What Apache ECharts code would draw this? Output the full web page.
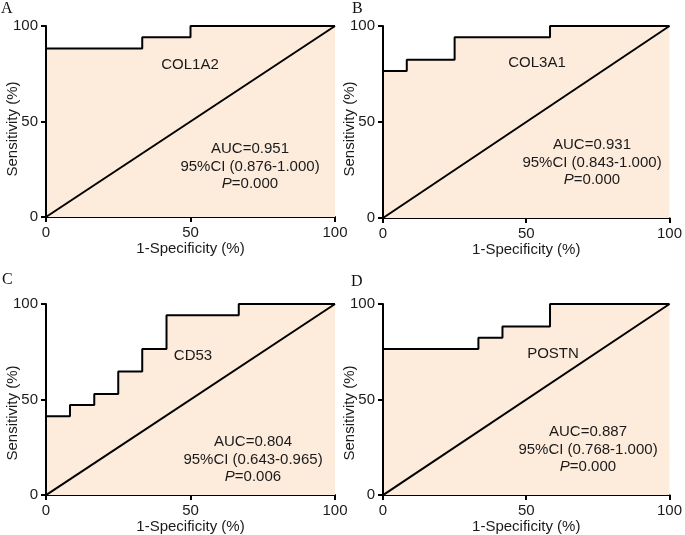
<!DOCTYPE html>
<html>
<head>
<meta charset="utf-8">
<script src="https://cdn.jsdelivr.net/npm/echarts@6/dist/echarts.min.js"></script>
<style>
html,body{margin:0;padding:0;background:#fff;}
#chart{width:685px;height:535px;}
</style>
</head>
<body>
<div id="chart"></div>
<script>
// ROC curve vertices (1-Specificity %, Sensitivity %), step-wise
var fprA = [0, 0, 33.3, 50, 100];
var tprA = [0, 88.2, 94.1, 100, 100];
var fprB = [0, 0, 8.3, 25, 58.3, 100];
var tprB = [0, 76.5, 82.4, 94.1, 100, 100];
var fprC = [0, 0, 8.3, 16.7, 25, 33.3, 41.7, 66.7, 100];
var tprC = [0, 41.2, 47.1, 52.9, 64.7, 76.5, 94.1, 100, 100];
var fprD = [0, 0, 33.3, 41.7, 58.3, 100];
var tprD = [0, 76.5, 82.4, 88.2, 100, 100];
var refX = [0, 100];
var refY = [0, 100];

var panelLetters = ['A', 'B', 'C', 'D'];
var genes = ['COL1A2', 'COL3A1', 'CD53', 'POSTN'];
var aucText = ['AUC=0.951', 'AUC=0.931', 'AUC=0.804', 'AUC=0.887'];
var ciText = ['95%CI (0.876-1.000)', '95%CI (0.843-1.000)', '95%CI (0.643-0.965)', '95%CI (0.768-1.000)'];
var pText = ['0.000', '0.000', '0.006', '0.000'];
var xTitle = '1-Specificity (%)';
var yTitle = 'Sensitivity (%)';

var fprs = [fprA, fprB, fprC, fprD];
var tprs = [tprA, tprB, tprC, tprD];

function pairs(xs, ys) { return xs.map(function (x, i) { return [x, ys[i]]; }); }

var grids = [
  {left: 46, top: 26, width: 289, height: 191},
  {left: 383, top: 26, width: 289, height: 192},
  {left: 46, top: 304, width: 289, height: 192},
  {left: 383, top: 304, width: 289, height: 192}
];

var FONT = '"Liberation Sans", Arial, sans-serif';
var TXT = '#1a1a1a';
var axisCommon = {
  min: 0, max: 100, interval: 50,
  axisLine: {show: true, lineStyle: {color: '#000', width: 2}},
  axisTick: {show: true, length: 5, lineStyle: {color: '#000', width: 2}},
  axisLabel: {color: TXT, fontSize: 15, fontFamily: FONT},
  splitLine: {show: false},
  nameLocation: 'middle',
  nameTextStyle: {color: TXT, fontSize: 15, fontFamily: FONT}
};

var xAxes = [], yAxes = [], series = [];
for (var i = 0; i < 4; i++) {
  xAxes.push(Object.assign({}, axisCommon, {type: 'value', gridIndex: i, name: xTitle, nameGap: 20, axisLabel: Object.assign({}, axisCommon.axisLabel, {margin: 8})}));
  yAxes.push(Object.assign({}, axisCommon, {type: 'value', gridIndex: i, axisLabel: Object.assign({}, axisCommon.axisLabel, {margin: 8})}));
  series.push({
    type: 'line', xAxisIndex: i, yAxisIndex: i,
    data: pairs(fprs[i], tprs[i]),
    step: 'end', symbol: 'none', clip: false,
    lineStyle: {color: '#000', width: 2},
    areaStyle: {color: '#fdebdc', opacity: 1},
    z: 2
  });
  series.push({
    type: 'line', xAxisIndex: i, yAxisIndex: i,
    data: pairs(refX, refY),
    symbol: 'none', clip: false,
    lineStyle: {color: '#000', width: 2},
    z: 3
  });
}

// annotation positions (pixels)
var letterPos = [[7, 9], [358, 9], [8, 280], [357, 282]];
var genePos = [[190, 65], [537, 63], [193, 356], [553, 354]];
var statPos = [[250, 149], [592, 145], [253, 442], [588, 432]];
var yTitlePos = [[13, 129], [350, 129], [13, 413], [350, 413]];
var lineGap = 17.5;

var graphics = [];
for (var j = 0; j < 4; j++) {
  graphics.push({type: 'text', left: letterPos[j][0] - 6, top: letterPos[j][1] - 8,
    style: {text: panelLetters[j], font: '16px "Liberation Serif", "Times New Roman", serif', fill: '#111'}, z: 10});
  graphics.push({type: 'text', x: yTitlePos[j][0], y: yTitlePos[j][1], rotation: Math.PI / 2,
    style: {text: yTitle, font: '15px ' + FONT, fill: TXT, align: 'center', verticalAlign: 'middle'}, z: 10});
  graphics.push({type: 'text', x: genePos[j][0], y: genePos[j][1],
    style: {text: genes[j], font: '15px ' + FONT, fill: TXT, align: 'center', verticalAlign: 'middle'}, z: 10});
  graphics.push({type: 'text', x: statPos[j][0], y: statPos[j][1],
    style: {text: aucText[j], font: '15px ' + FONT, fill: TXT, align: 'center', verticalAlign: 'middle'}, z: 10});
  graphics.push({type: 'text', x: statPos[j][0], y: statPos[j][1] + lineGap,
    style: {text: ciText[j], font: '15px ' + FONT, fill: TXT, align: 'center', verticalAlign: 'middle'}, z: 10});
  graphics.push({type: 'text', x: statPos[j][0], y: statPos[j][1] + 2 * lineGap,
    style: {text: '{i|P}=' + pText[j], font: '15px ' + FONT, fill: TXT, align: 'center', verticalAlign: 'middle',
      rich: {i: {fontStyle: 'italic', fontSize: 15, fontFamily: FONT, fill: TXT}}}, z: 10});
}

var chart = echarts.init(document.getElementById('chart'), null, {renderer: 'canvas'});
chart.setOption({
  animation: false,
  backgroundColor: '#fff',
  grid: grids,
  xAxis: xAxes,
  yAxis: yAxes,
  series: series,
  graphic: graphics
});
</script>
</body>
</html>
